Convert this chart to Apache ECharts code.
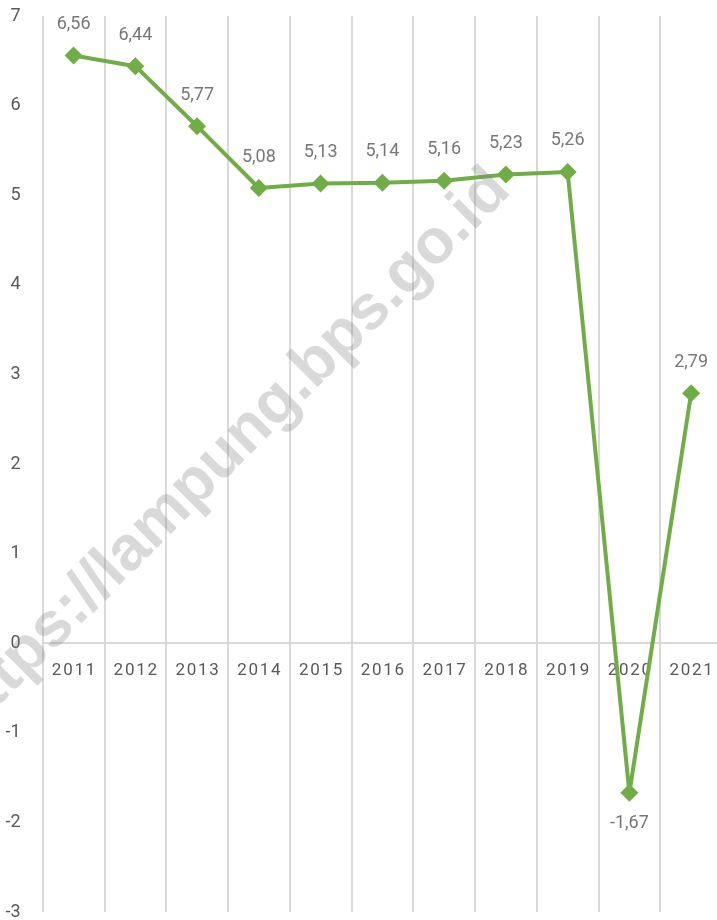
<!DOCTYPE html>
<html>
<head>
<meta charset="utf-8">
<style>
  html, body { margin: 0; padding: 0; background: #fff; }
  #chart { width: 717px; height: 920px; }
</style>
<script src="https://cdn.jsdelivr.net/npm/echarts@6/dist/echarts.min.js"></script>
</head>
<body>
<div id="chart"></div>
<script>
// Annual growth (%) by year
const years = ['2011', '2012', '2013', '2014', '2015', '2016', '2017', '2018', '2019', '2020', '2021'];
const growth = [6.56, 6.44, 5.77, 5.08, 5.13, 5.14, 5.16, 5.23, 5.26, -1.67, 2.79];
const yTicks = { min: -3, max: 7, step: 1 };
const watermarkText = 'https://lampung.bps.go.id';

const labelFont = 'Roboto, "Liberation Sans", sans-serif';
const fmtComma = v => v.toFixed(2).replace('.', ',');

// plot area
const W = 717, H = 920;
const gridBox = { left: 42.7, right: -5, top: 16, bottom: 8 };
const plotH = H - gridBox.top - gridBox.bottom;
// distance from the bottom of the plot up to the zero line
const zeroLift = plotH * (0 - yTicks.min) / (yTicks.max - yTicks.min);

const chart = echarts.init(document.getElementById('chart'), null, { renderer: 'canvas' });

chart.setOption({
  animation: false,
  backgroundColor: '#ffffff',
  grid: Object.assign({ containLabel: false, outerBoundsMode: 'none' }, gridBox),
  xAxis: {
    type: 'category',
    data: years,
    boundaryGap: true,
    position: 'bottom',
    offset: -zeroLift,
    axisLine: { show: true, onZero: false, lineStyle: { color: '#d9d9d9', width: 2 } },
    axisTick: { show: false },
    axisLabel: {
      interval: 0,
      color: '#595959',
      fontFamily: labelFont,
      fontSize: 17,
      margin: 19,
      formatter: v => v.split('').join('\u200A')
    },
    splitLine: { show: true, interval: 0, lineStyle: { color: '#d9d9d9', width: 2 } }
  },
  yAxis: {
    type: 'value',
    min: yTicks.min,
    max: yTicks.max,
    interval: yTicks.step,
    axisLine: { show: false },
    axisTick: { show: false },
    splitLine: { show: false },
    axisLabel: {
      color: '#595959',
      fontFamily: labelFont,
      fontSize: 18,
      align: 'right',
      margin: 22
    }
  },
  series: [{
    type: 'line',
    data: growth.map(v => ({
      value: v,
      label: { position: v < 0 ? 'bottom' : 'top' }
    })),
    symbol: 'diamond',
    symbolSize: 18,
    lineStyle: { color: '#70ad47', width: 4 },
    itemStyle: { color: '#70ad47' },
    label: {
      show: true,
      distance: 13,
      color: '#777777',
      fontFamily: labelFont,
      fontSize: 18,
      formatter: p => fmtComma(p.value)
    },
    z: 3
  }],
  graphic: [{
    type: 'text',
    x: 228,
    y: 452,
    rotation: Math.PI / 4,
    z: 100,
    silent: true,
    style: {
      text: watermarkText,
      font: 'bold 63px "Liberation Sans", Arial, sans-serif',
      fill: 'rgba(128,128,128,0.3)',
      align: 'center',
      verticalAlign: 'middle'
    }
  }]
});
</script>
</body>
</html>
